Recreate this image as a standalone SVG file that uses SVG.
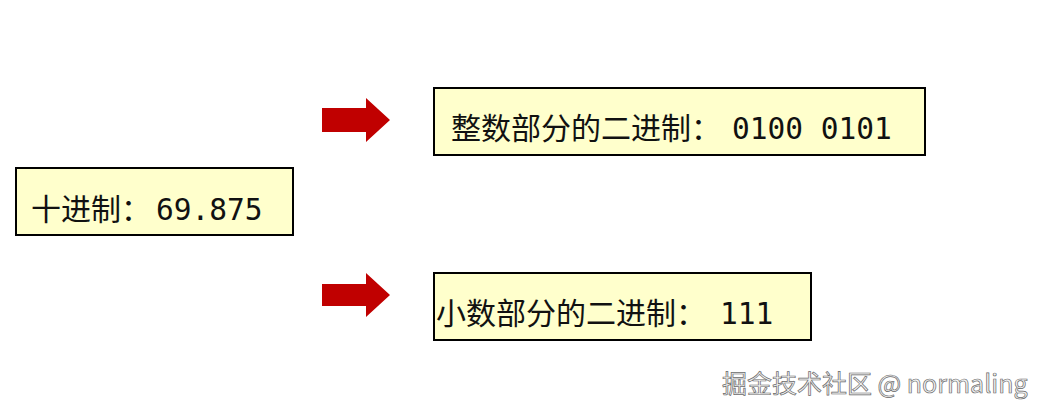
<svg xmlns="http://www.w3.org/2000/svg" width="1043" height="417" viewBox="0 0 1043 417">
<style>
.box{fill:#FFFFCC;stroke:#000;stroke-width:2}
.cjk{font-family:"Noto Sans CJK SC","Microsoft YaHei",sans-serif;font-size:30px;fill:#111}
.mono{font-family:"DejaVu Sans Mono","Liberation Mono",monospace;font-size:29.5px}
.arrow{fill:#C00000}
.wm{font-family:"Noto Sans CJK SC","Noto Sans",sans-serif;font-size:25px;fill:#f2f2f2;stroke:#6a6a6a;stroke-width:0.7px}
</style>
<rect width="1043" height="417" fill="#fff"/>
<g id="decimal">
<rect class="box" x="16" y="168" width="277" height="67"/>
<text class="cjk" x="31" y="220">十进制：<tspan class="mono" x="156">69.875</tspan></text>
</g>
<g id="integer">
<rect class="box" x="434" y="88" width="491" height="67"/>
<text class="cjk" x="451" y="139">整数部分的二进制：<tspan class="mono" x="732">0100 0101</tspan></text>
</g>
<g id="fraction">
<rect class="box" x="434" y="273" width="377" height="67"/>
<text class="cjk" x="436" y="324">小数部分的二进制：<tspan class="mono" x="720">111</tspan></text>
</g>
<g id="connectors">
<polygon class="arrow" points="322,108 366,108 366,98 390,120 366,142 366,132 322,132"/>
<polygon class="arrow" points="322,284 366,284 366,273 390,295 366,317 366,306 322,306"/>
</g>
<text class="wm" x="722" y="393">掘金技术社区 @ normaling</text>
</svg>
